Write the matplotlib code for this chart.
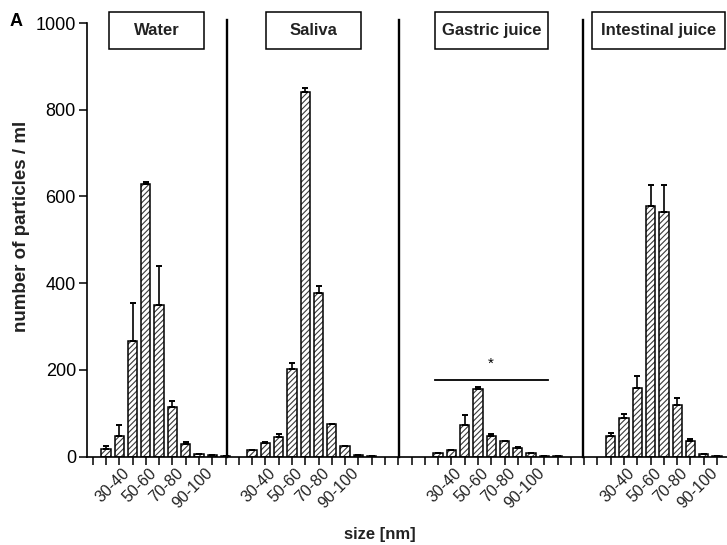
import numpy as np
import matplotlib
matplotlib.use("Agg")
import matplotlib.pyplot as plt
from matplotlib.patches import Rectangle
from matplotlib.transforms import ScaledTranslation

plt.rcParams["font.family"] = ["Liberation Sans", "DejaVu Sans"]
plt.rcParams["hatch.linewidth"] = 0.8

# size bins (nm)
bins = ["30-40", "40-50", "50-60", "60-70", "70-80", "80-90",
        "90-100", "100-110", "110-120", "120-130"]
labelled_bins = ["30-40", "50-60", "70-80", "90-100"]

groups = ["Water", "Saliva", "Gastric juice", "Intestinal juice"]

# number of particles / ml (mean and upper SEM)
water = [17, 48, 266, 628, 349, 114, 29, 5, 3, 2]
water_err = [8, 25, 87, 6, 90, 14, 5, 0, 0, 0]
saliva = [16, 32, 44, 201, 840, 377, 75, 25, 3, 1]
saliva_err = [0, 2, 8, 15, 11, 16, 0, 0, 0, 0]
gastric = [8, 15, 72, 155, 48, 36, 19, 7, 2, 1]
gastric_err = [0, 0, 23, 6, 3, 0, 2, 1, 0, 0]
intestinal = [48, 89, 159, 579, 563, 118, 35, 5, 1]
intestinal_err = [7, 10, 26, 48, 64, 17, 6, 1, 0]

series = [water, saliva, gastric, intestinal]
errors = [water_err, saliva_err, gastric_err, intestinal_err]

# slot of the first bin of each group on the shared x axis
group_start = [1, 12, 26, 39]
separators = [10.1, 23.05, 36.9]
# label frames: x-span in axis slots
frame_span = [(1.23, 8.38), (13.04, 20.19), (25.76, 34.26), (37.6, 47.6)]
sig_span = (25.75, 34.25)
sig_level = 177

fig = plt.figure(figsize=(7.27, 5.45), dpi=100)
ax = fig.add_axes([87 / 727, 88.5 / 545, 1 - 87 / 727, (456.5 - 23) / 545])

label_offset = ax.get_xaxis_transform() + ScaledTranslation(
    7 / 100, -9 / 100, fig.dpi_scale_trans)

for vals, errs, start in zip(series, errors, group_start):
    x = start + np.arange(len(vals))
    ax.bar(x, vals, width=0.7, color="white", edgecolor="#3a3a3a",
           hatch="//////", linewidth=0, zorder=2)
    ax.bar(x, vals, width=0.7, fill=False, edgecolor="black",
           linewidth=1.1, zorder=3)
    ax.errorbar(x, vals, yerr=[np.zeros(len(errs)), errs], fmt="none",
                ecolor="black", elinewidth=1.2, capsize=2.5, capthick=1.4,
                zorder=4)
    for i, b in enumerate(bins[:len(vals)]):
        if b in labelled_bins:
            ax.text(x[i], 0, b, transform=label_offset, rotation=45,
                    ha="center", va="top", fontsize=11.5, color="#222222")

ax.set_xlim(-0.43, 47.75)
ax.set_ylim(0, 1000)

ax.set_xticks(np.arange(0, 48))
ax.set_xticklabels([])
ax.tick_params(axis="x", length=5.5, width=1.1, direction="out")
ax.set_yticks([0, 200, 400, 600, 800, 1000])
ax.tick_params(axis="y", length=6, width=1.1, labelsize=13, pad=2)

for side in ("top", "right"):
    ax.spines[side].set_visible(False)
for side in ("left", "bottom"):
    ax.spines[side].set_linewidth(1.2)

for s in separators:
    ax.plot([s, s], [0, 1008], color="black", lw=1.7, clip_on=False, zorder=5)

for name, (x0, x1) in zip(groups, frame_span):
    ax.add_patch(Rectangle((x0, 940), x1 - x0, 85, fill=False,
                           edgecolor="black", lw=1.1, clip_on=False, zorder=6))
    ax.text((x0 + x1) / 2, 983, name, ha="center", va="center",
            fontsize=12, fontweight="bold", color="#222222")

ax.plot(sig_span, [sig_level, sig_level], color="black", lw=1.3, zorder=5)
ax.text(np.mean(sig_span), sig_level + 20, "*", ha="center", va="bottom",
        fontsize=11)

fig.text(22 / 727, 1 - 226 / 545, "number of particles / ml", rotation=90,
         ha="center", va="center", fontsize=13.5, fontweight="bold",
         color="#222222")
fig.text(380 / 727, 1 - 535 / 545, "size [nm]", ha="center", va="center",
         fontsize=12, fontweight="bold", color="#222222")
fig.text(16 / 727, 1 - 21 / 545, "A", ha="center", va="center",
         fontsize=13, fontweight="bold")

fig.savefig("out.png", dpi=100)
